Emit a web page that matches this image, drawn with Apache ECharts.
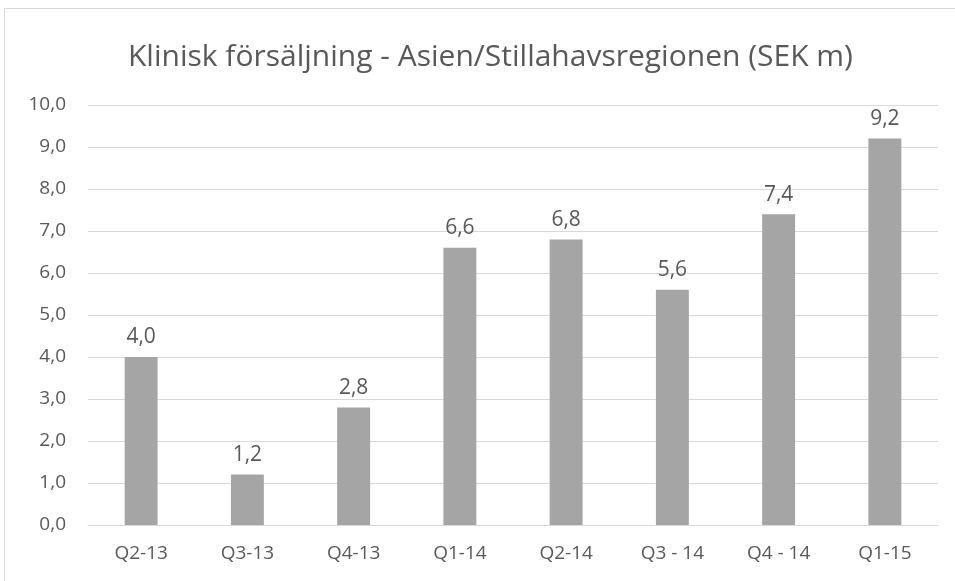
<!DOCTYPE html>
<html>
<head>
<meta charset="utf-8">
<script src="https://cdn.jsdelivr.net/npm/echarts@6/dist/echarts.min.js"></script>
<style>
  html, body { margin: 0; padding: 0; background: #fff; }
  #main { width: 955px; height: 581px; }
</style>
</head>
<body>
<div id="main"></div>
<script>
// kvartal och försäljning (SEK m)
var quarters = ['Q2-13', 'Q3-13', 'Q4-13', 'Q1-14', 'Q2-14', 'Q3 - 14', 'Q4 - 14', 'Q1-15'];
var sales = [4.0, 1.2, 2.8, 6.6, 6.8, 5.6, 7.4, 9.2];

var font = '"Open Sans", "Liberation Sans", sans-serif';
var textColor = '#595959';

var myChart = echarts.init(document.getElementById('main'));

var option = {
    animation: false,
    title: {
        text: 'Klinisk försäljning - Asien/Stillahavsregionen (SEK m)',
        left: 123,
        top: 37,
        textStyle: { fontFamily: font, fontSize: 30, fontWeight: 'normal', color: textColor }
    },
    graphic: [{
        type: 'rect',
        shape: { x: 4.5, y: 8.5, width: 1000, height: 1000 },
        style: { fill: 'none', stroke: '#d9d9d9', lineWidth: 1 }
    }],
    grid: { left: 88, right: 17, top: 105, bottom: 56, containLabel: false },
    xAxis: {
        type: 'category',
        data: quarters,
        axisLine: { lineStyle: { color: '#d9d9d9' } },
        axisTick: { show: false },
        axisLabel: { fontFamily: font, fontSize: 19, color: textColor, margin: 19 }
    },
    yAxis: {
        type: 'value',
        min: 0,
        max: 10,
        interval: 1,
        axisLine: { show: false },
        axisTick: { show: false },
        splitLine: { lineStyle: { color: '#d9d9d9' } },
        axisLabel: {
            fontFamily: font, fontSize: 19, color: textColor, margin: 22,
            formatter: function (v) { return v.toFixed(1).replace('.', ','); }
        }
    },
    series: [{
        type: 'bar',
        data: sales,
        barWidth: '31%',
        itemStyle: { color: '#a5a5a5' },
        label: {
            show: true,
            position: 'top',
            distance: 9,
            fontFamily: font,
            fontSize: 21,
            color: textColor,
            formatter: function (p) { return p.value.toFixed(1).replace('.', ','); }
        }
    }]
};

myChart.setOption(option);
</script>
</body>
</html>
